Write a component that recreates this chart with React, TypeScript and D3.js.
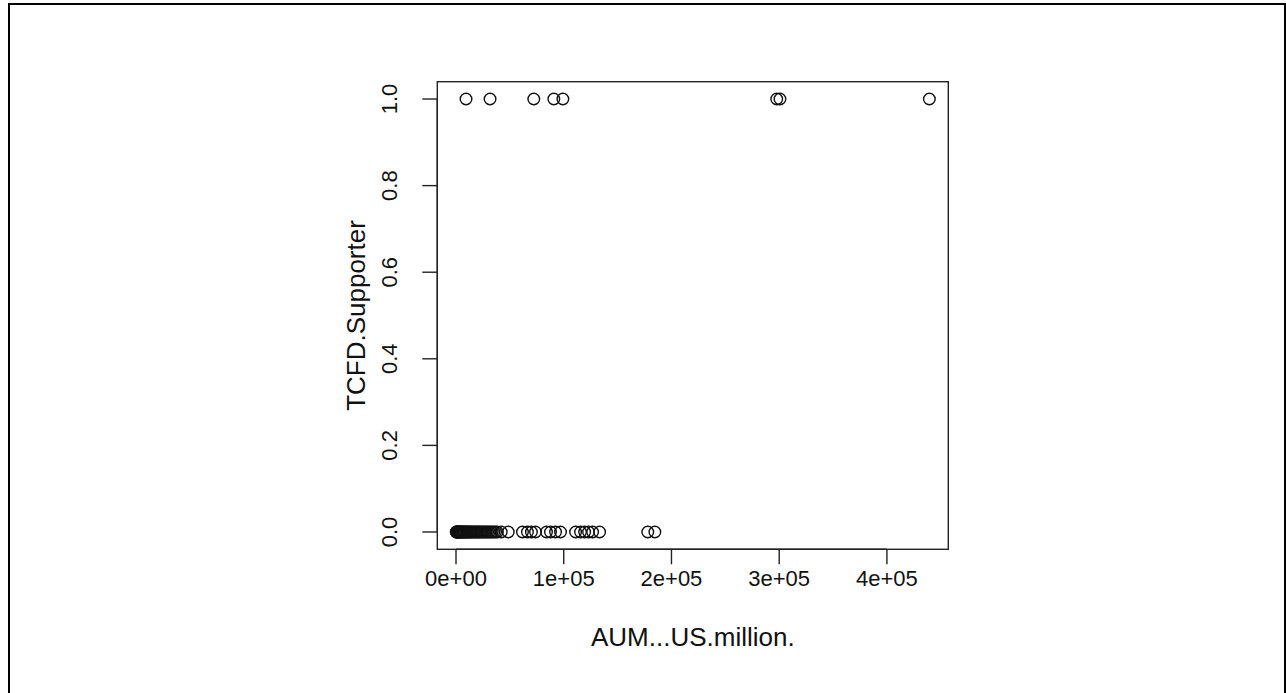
import React, { useEffect, useRef } from "react";
import * as d3 from "d3";

// AUM (US$ million) of TCFD supporters (y = 1)
const supporterAUM = [9300, 31600, 72200, 90800, 99200, 297700, 300700, 439400];
// AUM (US$ million) of non-supporters (y = 0)
const nonSupporterAUM = [
  200, 450, 700, 1000, 1300, 1600, 2000, 2400, 2900, 3300, 3800, 4300, 4900, 5400,
  6100, 6800, 7500, 8200, 9000, 9800, 10600, 11500, 12300, 13200, 14100, 15000,
  16200, 17300, 18400, 19600, 20700, 21900, 23100, 24200, 25600, 26800, 28100,
  29400, 30700, 32200, 33600, 35100, 36700, 38300, 42000, 48500, 61700, 66300,
  70000, 73800, 84000, 87700, 92400, 97000, 111000, 115600, 119400, 123000,
  126800, 133300, 178000, 184600,
];
const xTicks = [0, 100000, 200000, 300000, 400000];
const xTickLabels = ["0e+00", "1e+05", "2e+05", "3e+05", "4e+05"];
const yTicks = [0, 0.2, 0.4, 0.6, 0.8, 1.0];
const yTickLabels = ["0.0", "0.2", "0.4", "0.6", "0.8", "1.0"];
const xTitle = "AUM...US.million.";
const yTitle = "TCFD.Supporter";

export default function App() {
  const ref = useRef<SVGSVGElement | null>(null);

  useEffect(() => {
    const svg = d3.select(ref.current);
    svg.selectAll("*").remove();

    const W = 1286, H = 693;
    const box = { left: 437.3, right: 948.3, top: 81.7, bottom: 549.3 };
    const font = "'Liberation Sans', Arial, Helvetica, sans-serif";

    svg.append("rect").attr("width", W).attr("height", H).attr("fill", "#fff");
    svg.append("rect")
      .attr("x", 9).attr("y", 4).attr("width", 1276).attr("height", 700)
      .attr("fill", "none").attr("stroke", "#000").attr("stroke-width", 2);

    const all = supporterAUM.concat(nonSupporterAUM);
    const [mn, mx] = d3.extent(all) as [number, number];
    const pad = (mx - mn) * 0.04;
    const x = d3.scaleLinear().domain([mn - pad, mx + pad]).range([box.left, box.right]);
    const y = d3.scaleLinear().domain([-0.04, 1.04]).range([box.bottom, box.top]);

    const g = svg.append("g");
    g.append("rect")
      .attr("x", box.left).attr("y", box.top)
      .attr("width", box.right - box.left).attr("height", box.bottom - box.top)
      .attr("fill", "none").attr("stroke", "#222").attr("stroke-width", 1.4);

    const tickLen = 15;
    const tickFont = 22;
    // x axis
    g.append("line")
      .attr("x1", x(xTicks[0])).attr("x2", x(xTicks[xTicks.length - 1]))
      .attr("y1", box.bottom).attr("y2", box.bottom)
      .attr("stroke", "#222").attr("stroke-width", 1.4);
    xTicks.forEach((t, i) => {
      g.append("line")
        .attr("x1", x(t)).attr("x2", x(t))
        .attr("y1", box.bottom).attr("y2", box.bottom + tickLen)
        .attr("stroke", "#222").attr("stroke-width", 1.4);
      g.append("text")
        .attr("x", x(t)).attr("y", 586)
        .attr("text-anchor", "middle")
        .attr("font-family", font).attr("font-size", tickFont).attr("fill", "#111")
        .text(xTickLabels[i]);
    });
    // y axis
    g.append("line")
      .attr("x1", box.left).attr("x2", box.left)
      .attr("y1", y(yTicks[0])).attr("y2", y(yTicks[yTicks.length - 1]))
      .attr("stroke", "#222").attr("stroke-width", 1.4);
    yTicks.forEach((t, i) => {
      g.append("line")
        .attr("x1", box.left - tickLen).attr("x2", box.left)
        .attr("y1", y(t)).attr("y2", y(t))
        .attr("stroke", "#222").attr("stroke-width", 1.4);
      g.append("text")
        .attr("transform", `translate(397,${y(t)}) rotate(-90)`)
        .attr("text-anchor", "middle")
        .attr("font-family", font).attr("font-size", tickFont).attr("fill", "#111")
        .text(yTickLabels[i]);
    });

    g.append("text")
      .attr("x", (box.left + box.right) / 2).attr("y", 646)
      .attr("text-anchor", "middle")
      .attr("font-family", font).attr("font-size", 26).attr("fill", "#111")
      .text(xTitle);
    g.append("text")
      .attr("transform", `translate(365,${(box.top + box.bottom) / 2}) rotate(-90)`)
      .attr("text-anchor", "middle")
      .attr("font-family", font).attr("font-size", 26).attr("fill", "#111")
      .text(yTitle);

    const pts = supporterAUM.map((v) => ({ v, s: 1 }))
      .concat(nonSupporterAUM.map((v) => ({ v, s: 0 })));
    g.append("g").selectAll("circle").data(pts).join("circle")
      .attr("cx", (d) => x(d.v)).attr("cy", (d) => y(d.s))
      .attr("r", 5.8)
      .attr("fill", "none").attr("stroke", "#111").attr("stroke-width", 1.4);
  }, []);

  return (
    <svg
      ref={ref}
      width={1286}
      height={693}
      style={{ position: "absolute", left: 0, top: 0, display: "block" }}
    />
  );
}
